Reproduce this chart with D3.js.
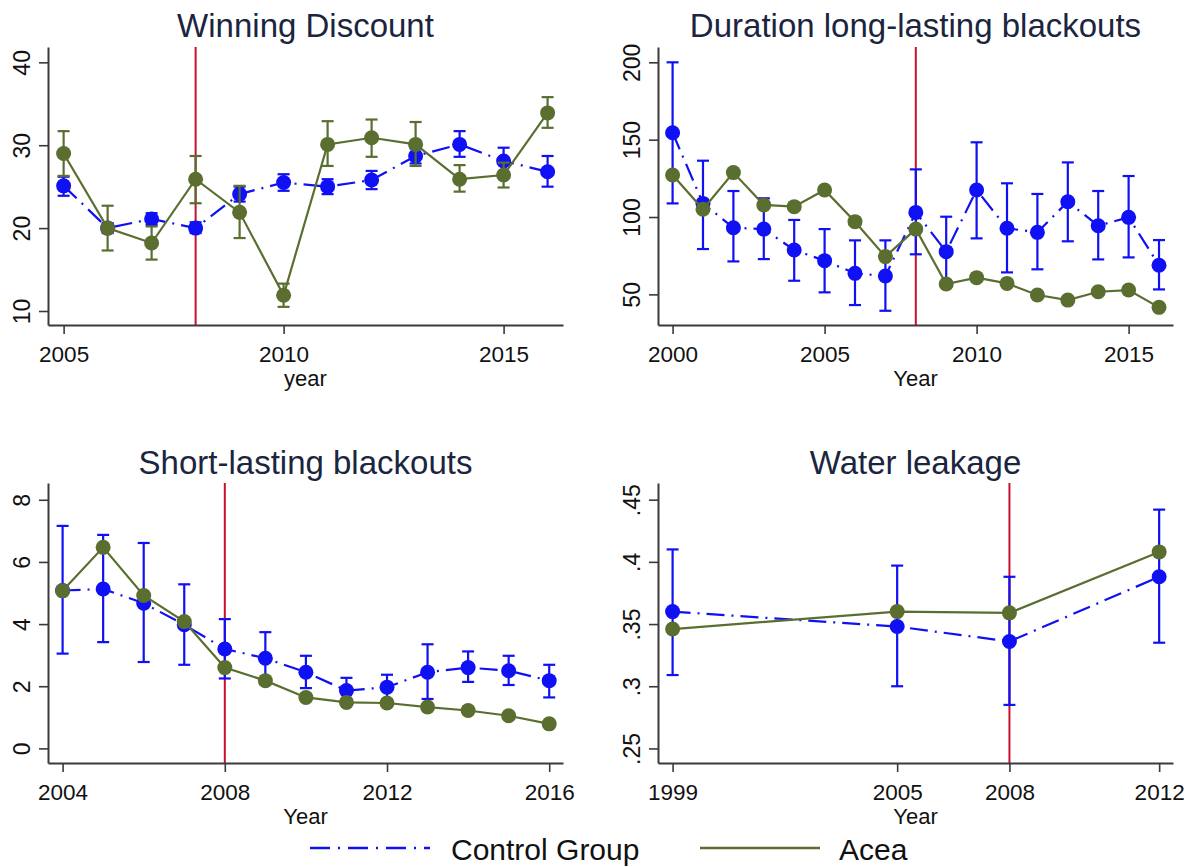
<!DOCTYPE html>
<html>
<head>
<meta charset="utf-8">
<script src="https://cdn.jsdelivr.net/npm/d3@7"></script>
<style>
  html, body { margin: 0; padding: 0; background: #ffffff; }
  svg { display: block; font-family: "Liberation Sans", Arial, sans-serif; }
</style>
</head>
<body>
<svg id="chart" width="1196" height="867"></svg>
<script>
// ---- Winning Discount ----
const wdYears   = [2005, 2006, 2007, 2008, 2009, 2010, 2011, 2012, 2013, 2014, 2015, 2016];
const wdAcea    = [29.0, 20.0, 18.2, 25.9, 21.9, 11.9, 30.1, 30.9, 30.1, 25.9, 26.4, 33.9];
const wdAceaLo  = [26.3, 17.3, 16.2, 23.0, 18.8, 10.5, 27.5, 28.6, 27.5, 24.4, 24.9, 32.1];
const wdAceaHi  = [31.7, 22.7, 20.2, 28.7, 25.1, 13.3, 32.9, 33.1, 32.8, 27.6, 27.9, 35.8];
const wdCtrl    = [25.1, 20.0, 21.1, 20.0, 24.1, 25.5, 25.0, 25.8, 28.7, 30.1, 28.1, 26.8];
const wdCtrlLo  = [23.9, 19.4, 20.4, 19.4, 23.2, 24.5, 24.1, 24.7, 27.8, 28.6, 26.5, 25.0];
const wdCtrlHi  = [26.2, 20.6, 21.8, 20.7, 25.0, 26.5, 25.9, 26.9, 29.6, 31.7, 29.7, 28.7];
const wdXTicks  = [2005, 2010, 2015];
const wdYTicks  = [10, 20, 30, 40];

// ---- Duration long-lasting blackouts ----
const dlYears   = [2000, 2001, 2002, 2003, 2004, 2005, 2006, 2007, 2008, 2009, 2010, 2011, 2012, 2013, 2014, 2015, 2016];
const dlAcea    = [127.2, 105.0, 128.7, 107.8, 106.7, 117.5, 97.0, 74.4, 92.2, 56.7, 60.8, 57.1, 49.6, 46.3, 51.7, 52.8, 41.6];
const dlCtrl    = [154.5, 108.8, 93.1, 92.2, 78.7, 71.8, 63.6, 61.9, 103.0, 77.6, 117.5, 92.7, 90.1, 109.9, 94.4, 99.8, 68.8];
const dlCtrlLo  = [108.8, 79.3, 71.3, 72.8, 58.8, 51.3, 43.1, 39.4, 75.9, 55.0, 86.2, 64.2, 66.2, 84.3, 72.6, 73.9, 53.2];
const dlCtrlHi  = [200.0, 136.4, 116.8, 112.1, 98.1, 92.2, 84.9, 84.9, 130.8, 100.2, 148.3, 121.8, 114.9, 135.3, 116.8, 126.5, 85.1];
const dlXTicks  = [2000, 2005, 2010, 2015];
const dlYTicks  = [50, 100, 150, 200];

// ---- Short-lasting blackouts ----
const slYears   = [2004, 2005, 2006, 2007, 2008, 2009, 2010, 2011, 2012, 2013, 2014, 2015, 2016];
const slAcea    = [5.07, 6.47, 4.92, 4.08, 2.60, 2.18, 1.64, 1.48, 1.46, 1.33, 1.22, 1.05, 0.79];
const slCtrl    = [5.08, 5.13, 4.67, 3.98, 3.20, 2.90, 2.45, 1.86, 1.97, 2.45, 2.60, 2.50, 2.18];
const slCtrlLo  = [3.05, 3.42, 2.78, 2.69, 2.25, 2.06, 1.94, 1.45, 1.57, 1.59, 2.14, 2.04, 1.64];
const slCtrlHi  = [7.16, 6.87, 6.61, 5.28, 4.16, 3.74, 2.98, 2.27, 2.37, 3.35, 3.12, 2.98, 2.69];
const slXTicks  = [2004, 2008, 2012, 2016];
const slYTicks  = [0, 2, 4, 6, 8];

// ---- Water leakage ----
const wlYears   = [1999, 2005, 2008, 2012];
const wlAcea    = [0.346, 0.360, 0.359, 0.408];
const wlCtrl    = [0.360, 0.348, 0.336, 0.388];
const wlCtrlLo  = [0.309, 0.300, 0.285, 0.335];
const wlCtrlHi  = [0.410, 0.397, 0.388, 0.442];
const wlXTicks  = [1999, 2005, 2008, 2012];
const wlYTicks  = [0.25, 0.30, 0.35, 0.40, 0.45];
const wlYLabels = [".25", ".3", ".35", ".4", ".45"];

const legendLabels = ["Control Group", "Acea"];
const reformYear = 2008;

const BLUE = "#1010f5";
const GREEN = "#5a6e30";
const RED = "#c8102e";
const AXIS = "#3a3a3a";
const TITLE = "#1b2540";

const svg = d3.select("#chart");

const panels = [
  { title: "Winning Discount", xTitle: "year", years: wdYears, acea: wdAcea, aceaLo: wdAceaLo, aceaHi: wdAceaHi,
    ctrl: wdCtrl, ctrlLo: wdCtrlLo, ctrlHi: wdCtrlHi, xTicks: wdXTicks, yTicks: wdYTicks, yFmt: d => String(d),
    box: { l: 48, r: 563, t: 47, b: 325 }, xDom: [2004.645, 2016.35], yDom: [8.31, 41.85], titleY: 37 },
  { title: "Duration long-lasting blackouts", xTitle: "Year", years: dlYears, acea: dlAcea,
    ctrl: dlCtrl, ctrlLo: dlCtrlLo, ctrlHi: dlCtrlHi, xTicks: dlXTicks, yTicks: dlYTicks, yFmt: d => String(d),
    box: { l: 658, r: 1173, t: 47, b: 325 }, xDom: [1999.52, 2016.46], yDom: [30.2, 209.9], titleY: 37 },
  { title: "Short-lasting blackouts", xTitle: "Year", years: slYears, acea: slAcea,
    ctrl: slCtrl, ctrlLo: slCtrlLo, ctrlHi: slCtrlHi, xTicks: slXTicks, yTicks: slYTicks, yFmt: d => String(d),
    box: { l: 48, r: 563, t: 483, b: 763 }, xDom: [2003.64, 2016.34], yDom: [-0.47, 8.54], titleY: 474 },
  { title: "Water leakage", xTitle: "Year", years: wlYears, acea: wlAcea,
    ctrl: wlCtrl, ctrlLo: wlCtrlLo, ctrlHi: wlCtrlHi, xTicks: wlXTicks, yTicks: wlYTicks,
    yFmt: d => wlYLabels[wlYTicks.indexOf(d)],
    box: { l: 658, r: 1173, t: 483, b: 763 }, xDom: [1998.61, 2012.37], yDom: [0.2383, 0.4634], titleY: 474 }
];

function drawPanel(p) {
  const b = p.box;
  const x = d3.scaleLinear().domain(p.xDom).range([b.l, b.r]);
  const y = d3.scaleLinear().domain(p.yDom).range([b.b, b.t]);
  const g = svg.append("g");

  // title
  g.append("text")
    .attr("x", (b.l + b.r) / 2).attr("y", p.titleY)
    .attr("text-anchor", "middle")
    .attr("font-size", 33).attr("fill", TITLE)
    .text(p.title);

  // reform year marker
  g.append("line")
    .attr("x1", x(reformYear)).attr("x2", x(reformYear))
    .attr("y1", b.t).attr("y2", b.b)
    .attr("stroke", RED).attr("stroke-width", 2);

  // x axis
  const xa = g.append("g").attr("transform", `translate(0,${b.b})`)
    .call(d3.axisBottom(x).tickValues(p.xTicks).tickFormat(d3.format("d")).tickSize(9).tickSizeOuter(0));
  xa.selectAll("text").attr("y", 37).attr("dy", 0).attr("font-size", 22.5).attr("fill", "#111")
    .attr("font-family", "Liberation Sans, Arial, sans-serif");

  // y axis with rotated labels
  const ya = g.append("g").attr("transform", `translate(${b.l},0)`)
    .call(d3.axisLeft(y).tickValues(p.yTicks).tickFormat(p.yFmt).tickSize(9).tickSizeOuter(0));
  ya.selectAll("text")
    .attr("x", 0).attr("dy", 0).attr("text-anchor", "middle")
    .attr("transform", "translate(-18,0) rotate(-90)")
    .attr("font-size", 23).attr("fill", "#111")
    .attr("font-family", "Liberation Sans, Arial, sans-serif");

  [xa, ya].forEach(a => {
    a.select(".domain").attr("stroke", AXIS).attr("stroke-width", 2);
    a.selectAll(".tick line").attr("stroke", AXIS).attr("stroke-width", 1.6);
  });

  // x axis title
  g.append("text")
    .attr("x", (b.l + b.r) / 2).attr("y", b.b + 61)
    .attr("text-anchor", "middle").attr("font-size", 22).attr("fill", "#111")
    .text(p.xTitle);

  const idx = d3.range(p.years.length);
  const line = arr => d3.line().x(i => x(p.years[i])).y(i => y(arr[i]))(idx);

  // control group: dash-dot line, CIs, markers
  g.append("path").attr("d", line(p.ctrl))
    .attr("fill", "none").attr("stroke", BLUE).attr("stroke-width", 2.2)
    .attr("stroke-dasharray", "18 7 2 7");
  const ci = (lo, hi, color) => {
    const cg = g.append("g").attr("stroke", color).attr("stroke-width", 2.2);
    idx.forEach(i => {
      const cx = x(p.years[i]);
      cg.append("line").attr("x1", cx).attr("x2", cx).attr("y1", y(lo[i])).attr("y2", y(hi[i]));
      cg.append("line").attr("x1", cx - 6).attr("x2", cx + 6).attr("y1", y(lo[i])).attr("y2", y(lo[i]));
      cg.append("line").attr("x1", cx - 6).attr("x2", cx + 6).attr("y1", y(hi[i])).attr("y2", y(hi[i]));
    });
  };
  ci(p.ctrlLo, p.ctrlHi, BLUE);
  g.append("g").selectAll("circle").data(idx).join("circle")
    .attr("cx", i => x(p.years[i])).attr("cy", i => y(p.ctrl[i])).attr("r", 7.5)
    .attr("fill", BLUE);

  // Acea: solid line, optional CIs, markers
  g.append("path").attr("d", line(p.acea))
    .attr("fill", "none").attr("stroke", GREEN).attr("stroke-width", 2.2);
  if (p.aceaLo) ci(p.aceaLo, p.aceaHi, GREEN);
  g.append("g").selectAll("circle").data(idx).join("circle")
    .attr("cx", i => x(p.years[i])).attr("cy", i => y(p.acea[i])).attr("r", 7.5)
    .attr("fill", GREEN);
}

panels.forEach(drawPanel);

// legend
const lg = svg.append("g");
lg.append("line").attr("x1", 310).attr("x2", 430).attr("y1", 848).attr("y2", 848)
  .attr("stroke", BLUE).attr("stroke-width", 2.5).attr("stroke-dasharray", "20 8 2 8");
lg.append("text").attr("x", 451).attr("y", 860).attr("font-size", 30).attr("fill", "#111").text(legendLabels[0]);
lg.append("line").attr("x1", 700).attr("x2", 820).attr("y1", 848).attr("y2", 848)
  .attr("stroke", GREEN).attr("stroke-width", 2.5);
lg.append("text").attr("x", 839).attr("y", 860).attr("font-size", 30).attr("fill", "#111").text(legendLabels[1]);
</script>
</body>
</html>
